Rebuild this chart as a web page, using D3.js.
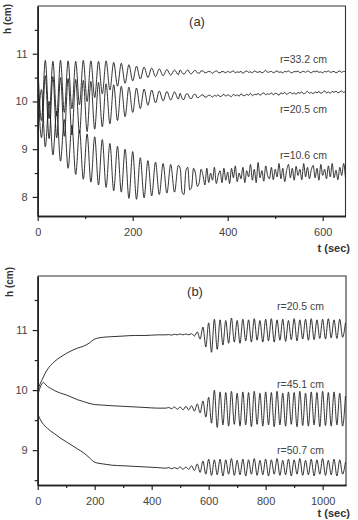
<!DOCTYPE html>
<html>
<head>
<meta charset="utf-8">
<script src="https://cdn.jsdelivr.net/npm/d3@7"></script>
<style>
  body { margin: 0; background: #fff; }
  text { font-family: "Liberation Sans", Arial, sans-serif; }
</style>
</head>
<body>
<svg id="fig" width="358" height="520"></svg>
<script>
// ---- panel (a): time of samples (s); extrema every 8 s, then noisy tail every 4 s
const tA = [
  0, 8, 16, 24, 32, 40, 48, 56, 64, 72,
  80, 88, 96, 104, 112, 120, 128, 136, 144, 152,
  160, 168, 176, 184, 192, 200, 208, 216, 224, 232,
  240, 248, 256, 264, 272, 280, 288, 296,
  300, 304, 308, 312, 316, 320, 324, 328, 332, 336, 340, 344,
  348, 352, 356, 360, 364, 368, 372, 376, 380, 384, 388, 392,
  396, 400, 404, 408, 412, 416, 420, 424, 428, 432, 436, 440,
  444, 448, 452, 456, 460, 464, 468, 472, 476, 480, 484, 488,
  492, 496, 500, 504, 508, 512, 516, 520, 524, 528, 532, 536,
  540, 544, 548, 552, 556, 560, 564, 568, 572, 576, 580, 584,
  588, 592, 596, 600, 604, 608, 612, 616, 620, 624, 628, 632,
  636, 640, 644, 648
];
const hA33 = [
  10.85, 9.6, 10.86, 9.64, 10.84, 9.7, 10.86, 9.77, 10.85, 9.85,
  10.84, 9.93, 10.86, 10.0, 10.85, 10.08, 10.84, 10.16, 10.85, 10.24,
  10.82, 10.32, 10.8, 10.38, 10.77, 10.43, 10.74, 10.47, 10.72, 10.5,
  10.7, 10.52, 10.68, 10.54, 10.67, 10.55, 10.66, 10.56,
  10.66, 10.6, 10.57, 10.62, 10.66, 10.6, 10.58, 10.63, 10.65, 10.6, 10.59, 10.64,
  10.64, 10.6, 10.61, 10.63, 10.62, 10.59, 10.62, 10.64, 10.61, 10.6, 10.63, 10.62,
  10.6, 10.63, 10.61, 10.62, 10.64, 10.6, 10.62, 10.61, 10.63, 10.59, 10.62, 10.64,
  10.61, 10.62, 10.6, 10.64, 10.62, 10.61, 10.63, 10.6, 10.62, 10.65, 10.61, 10.62,
  10.63, 10.6, 10.62, 10.64, 10.61, 10.62, 10.6, 10.63, 10.62, 10.64, 10.61, 10.6,
  10.63, 10.62, 10.64, 10.6, 10.62, 10.63, 10.61, 10.64, 10.62, 10.6, 10.63, 10.62,
  10.64, 10.61, 10.62, 10.6, 10.63, 10.62, 10.64, 10.61, 10.62, 10.63, 10.6, 10.62,
  10.64, 10.61, 10.63, 10.62
];
const hA20 = [
  10.56, 9.24, 10.54, 9.22, 10.52, 9.24, 10.5, 9.27, 10.48, 9.3,
  10.46, 9.33, 10.44, 9.37, 10.42, 9.42, 10.4, 9.47, 10.37, 9.53,
  10.35, 9.6, 10.32, 9.68, 10.3, 9.77, 10.28, 9.85, 10.26, 9.92,
  10.24, 9.97, 10.22, 10.01, 10.21, 10.03, 10.2, 10.05,
  10.17, 10.06, 10.04, 10.15, 10.16, 10.07, 10.06, 10.14, 10.15, 10.08, 10.09, 10.13,
  10.14, 10.09, 10.1, 10.13, 10.12, 10.09, 10.13, 10.11, 10.14, 10.1, 10.12, 10.15,
  10.11, 10.14, 10.12, 10.1, 10.15, 10.12, 10.14, 10.11, 10.16, 10.13, 10.12, 10.15,
  10.13, 10.17, 10.12, 10.15, 10.14, 10.17, 10.13, 10.16, 10.18, 10.14, 10.16, 10.15,
  10.18, 10.14, 10.17, 10.16, 10.13, 10.18, 10.16, 10.19, 10.15, 10.17, 10.19, 10.16,
  10.18, 10.15, 10.19, 10.17, 10.2, 10.16, 10.18, 10.21, 10.17, 10.19, 10.16, 10.2,
  10.18, 10.21, 10.17, 10.19, 10.22, 10.18, 10.2, 10.17, 10.21, 10.19, 10.22, 10.18,
  10.2, 10.22, 10.19, 10.21
];
const hA10 = [
  9.3, 10.25, 9.05, 10.0, 8.88, 9.8, 8.75, 9.62, 8.6, 9.5,
  8.47, 9.4, 8.37, 9.32, 8.31, 9.26, 8.25, 9.2, 8.2, 9.12,
  8.13, 9.06, 8.1, 9.0, 7.97, 8.95, 7.95, 8.82, 7.98, 8.76,
  8.02, 8.73, 8.05, 8.7, 8.08, 8.68, 8.1, 8.66,
  8.6, 8.1, 8.05, 8.55, 8.62, 8.15, 8.2, 8.6, 8.5, 8.22, 8.3, 8.58,
  8.45, 8.25, 8.6, 8.3, 8.5, 8.35, 8.62, 8.28, 8.45, 8.55, 8.3, 8.6,
  8.35, 8.52, 8.28, 8.6, 8.4, 8.65, 8.32, 8.5, 8.38, 8.62, 8.3, 8.55,
  8.42, 8.68, 8.35, 8.58, 8.3, 8.72, 8.4, 8.55, 8.33, 8.65, 8.45, 8.38,
  8.62, 8.36, 8.58, 8.42, 8.7, 8.38, 8.6, 8.32, 8.55, 8.68, 8.4, 8.6,
  8.35, 8.64, 8.45, 8.58, 8.36, 8.7, 8.42, 8.62, 8.38, 8.57, 8.66, 8.4,
  8.6, 8.35, 8.68, 8.45, 8.58, 8.38, 8.65, 8.42, 8.7, 8.4, 8.56, 8.36,
  8.62, 8.45, 8.7, 8.4
];
const labelsA = ["r=33.2 cm", "r=20.5 cm", "r=10.6 cm"];

// ---- panel (b): slow drift, then extrema every 10 s
const tB = [
  0, 4, 8, 14, 20, 26, 35, 45, 60, 80, 100, 120, 140, 160, 180, 200,
  230, 260, 300, 340, 380, 420, 450,
  460, 470, 480, 490, 500, 510, 520, 530, 540, 550,
  560, 570, 580, 590, 600, 610, 620, 630, 640, 650,
  660, 670, 680, 690, 700, 710, 720, 730, 740, 750,
  760, 770, 780, 790, 800, 810, 820, 830, 840, 850,
  860, 870, 880, 890, 900, 910, 920, 930, 940, 950,
  960, 970, 980, 990, 1000, 1010, 1020, 1030, 1040, 1050,
  1060, 1070, 1080
];
const hB20 = [
  10.0, 10.05, 10.1, 10.16, 10.22, 10.28, 10.35, 10.41, 10.48, 10.55, 10.61, 10.66,
  10.7, 10.73, 10.78, 10.85, 10.88, 10.89, 10.9, 10.91, 10.91, 10.92, 10.92,
  10.925, 10.915, 10.93, 10.92, 10.935, 10.92, 10.935, 10.92, 10.94, 10.9,
  10.97, 10.85, 11.05, 10.72, 11.12, 10.63, 11.18, 10.68, 11.17, 10.75,
  11.16, 10.78, 11.2, 10.8, 11.16, 10.78, 11.18, 10.82, 11.17, 10.8,
  11.19, 10.83, 11.16, 10.8, 11.18, 10.82, 11.19, 10.8, 11.17, 10.83,
  11.18, 10.81, 11.16, 10.84, 11.19, 10.82, 11.17, 10.85, 11.18, 10.83,
  11.19, 10.84, 11.17, 10.86, 11.18, 10.85, 11.19, 10.87, 11.17, 10.86,
  11.18, 10.88, 11.12
];
const hB45 = [
  9.93, 9.98, 10.04, 10.1, 10.13, 10.1, 10.06, 10.03, 9.99, 9.95, 9.92, 9.88,
  9.84, 9.81, 9.78, 9.76, 9.75, 9.74, 9.73, 9.72, 9.71, 9.7, 9.7,
  9.71, 9.69, 9.72, 9.68, 9.72, 9.67, 9.73, 9.67, 9.74, 9.65,
  9.77, 9.62, 9.82, 9.55, 9.88, 9.45, 10.0, 9.38, 9.97, 9.42,
  9.96, 9.4, 9.98, 9.43, 9.95, 9.4, 9.97, 9.42, 9.96, 9.39,
  9.98, 9.43, 9.95, 9.4, 9.97, 9.42, 9.96, 9.39, 9.98, 9.42,
  9.95, 9.4, 9.97, 9.43, 9.96, 9.39, 9.98, 9.41, 9.95, 9.4,
  9.97, 9.42, 9.96, 9.39, 9.98, 9.41, 9.96, 9.4, 9.97, 9.42,
  9.95, 9.4, 9.9
];
const hB50 = [
  9.6, 9.56, 9.52, 9.47, 9.43, 9.4, 9.36, 9.32, 9.27, 9.2, 9.14, 9.08,
  9.02, 8.96, 8.88, 8.8, 8.77, 8.75, 8.74, 8.73, 8.72, 8.71, 8.7,
  8.71, 8.69, 8.71, 8.69, 8.72, 8.68, 8.72, 8.68, 8.74, 8.66,
  8.77, 8.63, 8.82, 8.6, 8.85, 8.58, 8.84, 8.59, 8.85, 8.57,
  8.84, 8.6, 8.86, 8.58, 8.83, 8.59, 8.85, 8.57, 8.84, 8.6,
  8.86, 8.58, 8.83, 8.59, 8.85, 8.57, 8.84, 8.6, 8.86, 8.58,
  8.83, 8.59, 8.85, 8.57, 8.84, 8.6, 8.86, 8.58, 8.83, 8.59,
  8.85, 8.57, 8.84, 8.6, 8.86, 8.58, 8.83, 8.59, 8.85, 8.57,
  8.84, 8.6, 8.8
];
const labelsB = ["r=20.5 cm", "r=45.1 cm", "r=50.7 cm"];

// ticks
const xMajorA = [0, 200, 400, 600], xMinorA = [100, 300, 500];
const yMajorA = [8, 9, 10, 11], yMinorA = [8.5, 9.5, 10.5, 11.5];
const xMajorB = [0, 200, 400, 600, 800, 1000], xMinorB = [100, 300, 500, 700, 900];
const yMajorB = [9, 10, 11], yMinorB = [8.5, 9.5, 10.5, 11.5];

const svg = d3.select("#fig");

function drawPanel(p, id) {
  const x = d3.scaleLinear().domain(p.xDomain).range([p.left, p.right]);
  const y = d3.scaleLinear().domain(p.yDomain).range([p.bottom, p.top]);
  const g = svg.append("g");

  g.append("clipPath").attr("id", "clip" + id)
    .append("rect")
    .attr("x", p.left).attr("y", p.top)
    .attr("width", p.right - p.left).attr("height", p.bottom - p.top);

  // frame (top + right)
  g.append("path")
    .attr("d", `M${p.left},${p.top}H${p.right}V${p.bottom}`)
    .attr("fill", "none").attr("stroke", "#333").attr("stroke-width", 1.1);

  const line = d3.line()
    .x((d) => x(d[0]))
    .y((d) => y(d[1]))
    .curve(d3.curveMonotoneX);

  p.series.forEach((s) => {
    g.append("path")
      .datum(d3.zip(p.t, s))
      .attr("clip-path", `url(#clip${id})`)
      .attr("d", line)
      .attr("fill", "none")
      .attr("stroke", "#1c1c1c")
      .attr("stroke-width", 0.9);
  });

  // axes
  const styleAxis = (ax) => {
    ax.select(".domain").attr("stroke", "#222").attr("stroke-width", 1.6);
    ax.selectAll(".tick line").attr("stroke", "#222").attr("stroke-width", 1.2);
    ax.selectAll("text").attr("fill", "#444").attr("font-size", 11)
      .attr("font-family", '"Liberation Sans", Arial, sans-serif');
  };
  g.append("g").attr("transform", `translate(0,${p.bottom})`)
    .call(d3.axisBottom(x).tickValues(p.xMajor).tickSize(5).tickSizeOuter(0).tickPadding(7)
      .tickFormat(d3.format("d")))
    .call(styleAxis);
  g.append("g").attr("transform", `translate(0,${p.bottom})`)
    .call(d3.axisBottom(x).tickValues(p.xMinor).tickSize(3).tickSizeOuter(0).tickFormat(""))
    .call(styleAxis);
  g.append("g").attr("transform", `translate(${p.left},0)`)
    .call(d3.axisLeft(y).tickValues(p.yMajor).tickSize(5).tickSizeOuter(0).tickPadding(5)
      .tickFormat(d3.format("d")))
    .call(styleAxis);
  g.append("g").attr("transform", `translate(${p.left},0)`)
    .call(d3.axisLeft(y).tickValues(p.yMinor).tickSize(3).tickSizeOuter(0).tickFormat(""))
    .call(styleAxis);

  // axis titles
  g.append("text")
    .attr("transform", `translate(${p.yTitle[0]},${p.yTitle[1]}) rotate(-90)`)
    .attr("text-anchor", "middle")
    .attr("font-size", 10).attr("font-weight", "bold").attr("fill", "#333")
    .text("h (cm)");
  g.append("text")
    .attr("x", p.xTitle[0]).attr("y", p.xTitle[1])
    .attr("text-anchor", "end")
    .attr("font-size", 11).attr("font-weight", "bold").attr("fill", "#333")
    .text("t (sec)");

  // panel tag
  g.append("text")
    .attr("x", p.tag[1]).attr("y", p.tag[2])
    .attr("text-anchor", "middle")
    .attr("font-size", 13).attr("fill", "#333")
    .text(p.tag[0]);

  // series labels
  p.labels.forEach((lab, i) => {
    g.append("text")
      .attr("x", p.labelX).attr("y", p.labelY[i])
      .attr("font-size", 10.5).attr("fill", "#444")
      .text(lab);
  });
}

drawPanel({
  xDomain: [0, 648], yDomain: [7.6, 12.0],
  left: 37.7, right: 345.5, top: 6, bottom: 216,
  t: tA, series: [hA33, hA20, hA10],
  xMajor: xMajorA, xMinor: xMinorA, yMajor: yMajorA, yMinor: yMinorA,
  yTitle: [11, 19], xTitle: [350, 252], tag: ["(a)", 197, 26],
  labels: labelsA, labelX: 280, labelY: [63, 113, 159]
}, "a");

drawPanel({
  xDomain: [0, 1082], yDomain: [8.42, 11.9],
  left: 37.7, right: 346, top: 276, bottom: 485,
  t: tB, series: [hB20, hB45, hB50],
  xMajor: xMajorB, xMinor: xMinorB, yMajor: yMajorB, yMinor: yMinorB,
  yTitle: [13, 282], xTitle: [350, 517], tag: ["(b)", 195, 296],
  labels: labelsB, labelX: 277, labelY: [310, 388, 454]
}, "b");
</script>
</body>
</html>
